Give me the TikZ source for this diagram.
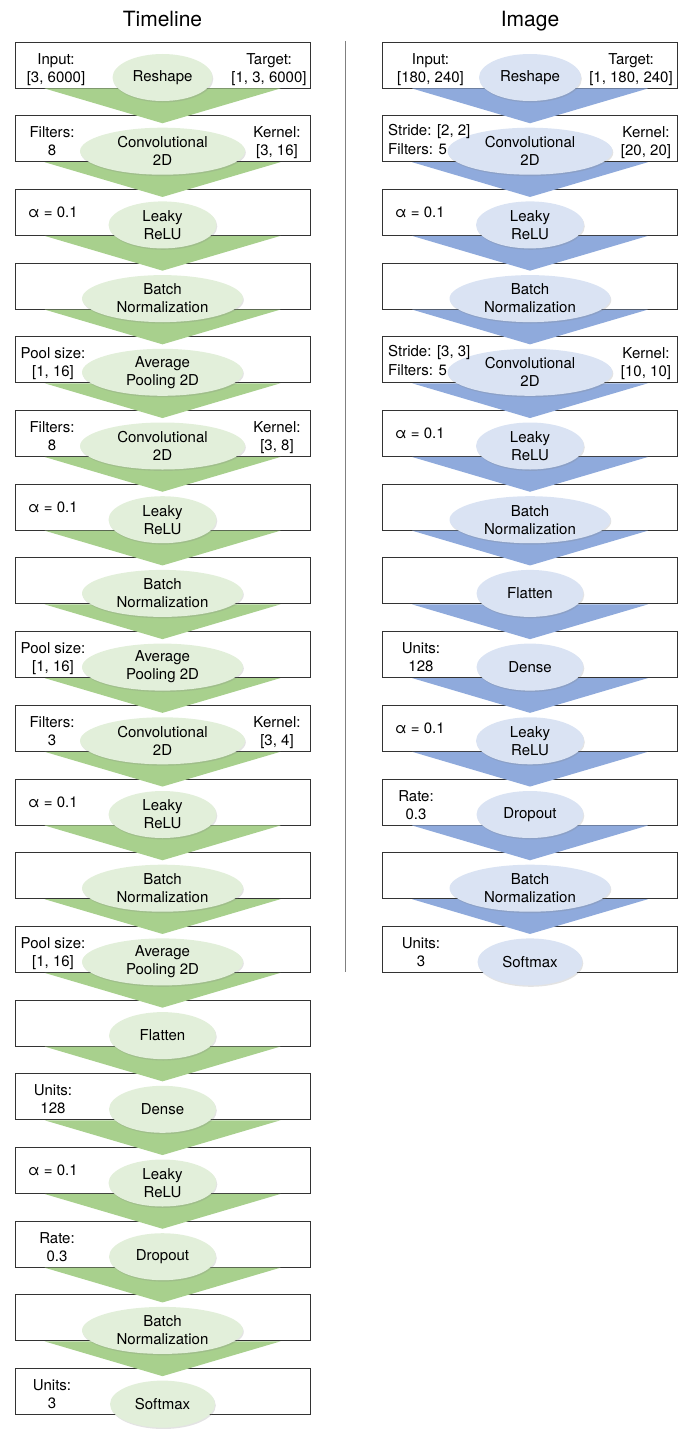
\documentclass[tikz,border=0pt]{standalone}
\usepackage{fontspec}
\setmainfont{TeX Gyre Heros}
\usetikzlibrary{shapes.geometric,shadows,calc}
\definecolor{gTri}{HTML}{A8D08D}
\definecolor{gEll}{HTML}{E2EFDA}
\definecolor{bTri}{HTML}{8FAADC}
\definecolor{bEll}{HTML}{DAE3F3}
\definecolor{boxline}{HTML}{333333}
\definecolor{sepline}{HTML}{808080}
\pgfdeclarelayer{mid}
\pgfdeclarelayer{fore}
\pgfdeclarelayer{top}
\pgfsetlayers{main,mid,fore,top}
\tikzset{
  boxs/.style={draw=boxline, line width=0.9pt, minimum width=295pt, minimum height=46pt, inner sep=0pt},
  ellbase/.style={ellipse, minimum height=47pt, inner sep=0pt,
    drop shadow={opacity=0.22, shadow xshift=0.8pt, shadow yshift=-1.4pt}},
  ellG/.style={ellbase, fill=gEll},
  ellB/.style={ellbase, fill=bEll},
  etext/.style={align=center, inner sep=0pt, font=\fontsize{15}{18}\selectfont},
  stext/.style={align=center, inner sep=0pt, anchor=base, font=\fontsize{15}{18}\selectfont},
  sltext/.style={align=left, inner sep=0pt, anchor=base west, font=\fontsize{15}{19}\selectfont},
  atext/.style={inner sep=0pt, anchor=base west, font=\fontsize{15}{18}\selectfont},
  title/.style={inner sep=0pt, anchor=base, font=\fontsize{21}{25}\selectfont},
  sep/.style={draw=sepline, line width=1.5pt}
}
\newcommand\Lyr[6]{%
  \node[boxs] (#1b) at (#2, 65+73.7*#3) {};
  \begin{pgfonlayer}{fore}
    \node[#5, minimum width=#4] (#1e) at (#2, 77.5+73.7*#3) {};
    \node[etext] (#1t) at (#1e.center) {#6};
  \end{pgfonlayer}}
\newcommand\Fun[3]{%
  \begin{pgfonlayer}{mid}
    \fill[#3] ($(#1b.south)+(-118,0)$) -- ($(#1b.south)+(118,0)$) -- ($(#2b.north)+(0,8)$) -- cycle;
  \end{pgfonlayer}}
\begin{document}
\begin{tikzpicture}[x=1pt, y=-1pt]
\useasboundingbox (0,0) rectangle (685,1429);
% titles
\node[title] (t1) at (162.5,27) {Timeline};
\node[title] (t2) at (530,27) {Image};
% separator
\coordinate (s1) at (345.7,41);
\coordinate (s2) at (345.7,972);
\draw[sep] (s1) -- (s2);
% ---------------- Timeline column ----------------
\Lyr{A0}{162.5}{0}{100pt}{ellG}{Reshape}
\Lyr{A1}{162.5}{1}{165pt}{ellG}{Convolutional\\2D}
\Lyr{A2}{162.5}{2}{108pt}{ellG}{Leaky\\ReLU}
\Lyr{A3}{162.5}{3}{161pt}{ellG}{Batch\\Normalization}
\Lyr{A4}{162.5}{4}{161pt}{ellG}{Average\\Pooling 2D}
\Lyr{A5}{162.5}{5}{165pt}{ellG}{Convolutional\\2D}
\Lyr{A6}{162.5}{6}{108pt}{ellG}{Leaky\\ReLU}
\Lyr{A7}{162.5}{7}{161pt}{ellG}{Batch\\Normalization}
\Lyr{A8}{162.5}{8}{161pt}{ellG}{Average\\Pooling 2D}
\Lyr{A9}{162.5}{9}{165pt}{ellG}{Convolutional\\2D}
\Lyr{A10}{162.5}{10}{108pt}{ellG}{Leaky\\ReLU}
\Lyr{A11}{162.5}{11}{161pt}{ellG}{Batch\\Normalization}
\Lyr{A12}{162.5}{12}{161pt}{ellG}{Average\\Pooling 2D}
\Lyr{A13}{162.5}{13}{107pt}{ellG}{Flatten}
\Lyr{A14}{162.5}{14}{107pt}{ellG}{Dense}
\Lyr{A15}{162.5}{15}{108pt}{ellG}{Leaky\\ReLU}
\Lyr{A16}{162.5}{16}{107pt}{ellG}{Dropout}
\Lyr{A17}{162.5}{17}{161pt}{ellG}{Batch\\Normalization}
\Lyr{A18}{162.5}{18}{105pt}{ellG}{Softmax}
\foreach \i [evaluate=\i as \j using int(\i+1)] in {0,...,17} {\Fun{A\i}{A\j}{gTri}}
% ---------------- Image column ----------------
\Lyr{B0}{530}{0}{102pt}{ellB}{Reshape}
\Lyr{B1}{530}{1}{165pt}{ellB}{Convolutional\\2D}
\Lyr{B2}{530}{2}{108pt}{ellB}{Leaky\\ReLU}
\Lyr{B3}{530}{3}{161pt}{ellB}{Batch\\Normalization}
\Lyr{B4}{530}{4}{165pt}{ellB}{Convolutional\\2D}
\Lyr{B5}{530}{5}{108pt}{ellB}{Leaky\\ReLU}
\Lyr{B6}{530}{6}{161pt}{ellB}{Batch\\Normalization}
\Lyr{B7}{530}{7}{107pt}{ellB}{Flatten}
\Lyr{B8}{530}{8}{107pt}{ellB}{Dense}
\Lyr{B9}{530}{9}{108pt}{ellB}{Leaky\\ReLU}
\Lyr{B10}{530}{10}{107pt}{ellB}{Dropout}
\Lyr{B11}{530}{11}{161pt}{ellB}{Batch\\Normalization}
\Lyr{B12}{530}{12}{105pt}{ellB}{Softmax}
\foreach \i [evaluate=\i as \j using int(\i+1)] in {0,...,11} {\Fun{B\i}{B\j}{bTri}}
% ---------------- side texts (on top) ----------------
\begin{pgfonlayer}{top}
\node[stext] (A0l) at (56,82) {Input:\\{[3, 6000]}};
\node[stext] (A0r) at (269,82) {Target:\\{[1, 3, 6000]}};
\node[stext] (A1l) at (52,82+73.7*1) {Filters:\\8};
\node[stext] (A1r) at (277,82+73.7*1) {Kernel:\\{[3, 16]}};
\node[atext] (A2l) at (28,70+73.7*2) {α = 0.1};
\node[stext] (A4l) at (53,82+73.7*4) {Pool size:\\{[1, 16]}};
\node[stext] (A5l) at (52,82+73.7*5) {Filters:\\8};
\node[stext] (A5r) at (277,82+73.7*5) {Kernel:\\{[3, 8]}};
\node[atext] (A6l) at (28,70+73.7*6) {α = 0.1};
\node[stext] (A8l) at (53,82+73.7*8) {Pool size:\\{[1, 16]}};
\node[stext] (A9l) at (52,82+73.7*9) {Filters:\\3};
\node[stext] (A9r) at (277,82+73.7*9) {Kernel:\\{[3, 4]}};
\node[atext] (A10l) at (28,70+73.7*10) {α = 0.1};
\node[stext] (A12l) at (53,82+73.7*12) {Pool size:\\{[1, 16]}};
\node[stext] (A14l) at (53,82+73.7*14) {Units:\\128};
\node[atext] (A15l) at (28,70+73.7*15) {α = 0.1};
\node[stext] (A16l) at (57,82+73.7*16) {Rate:\\0.3};
\node[stext] (A18l) at (52,82+73.7*18) {Units:\\3};
\node[stext] (B0l) at (430.5,82) {Input:\\{[180, 240]}};
\node[stext] (B0r) at (631,82) {Target:\\{[1, 180, 240]}};
\node[sltext] (B1l) at (388,81+73.7*1) {Stride: [2, 2]\\Filters: 5};
\node[stext] (B1r) at (646,82+73.7*1) {Kernel:\\{[20, 20]}};
\node[atext] (B2l) at (395,70+73.7*2) {α = 0.1};
\node[sltext] (B4l) at (388,81+73.7*4) {Stride: [3, 3]\\Filters: 5};
\node[stext] (B4r) at (646,82+73.7*4) {Kernel:\\{[10, 10]}};
\node[atext] (B5l) at (395,70+73.7*5) {α = 0.1};
\node[stext] (B8l) at (421,82+73.7*8) {Units:\\128};
\node[atext] (B9l) at (395,70+73.7*9) {α = 0.1};
\node[stext] (B10l) at (416,82+73.7*10) {Rate:\\0.3};
\node[stext] (B12l) at (421,82+73.7*12) {Units:\\3};
\end{pgfonlayer}
\end{tikzpicture}
\end{document}
